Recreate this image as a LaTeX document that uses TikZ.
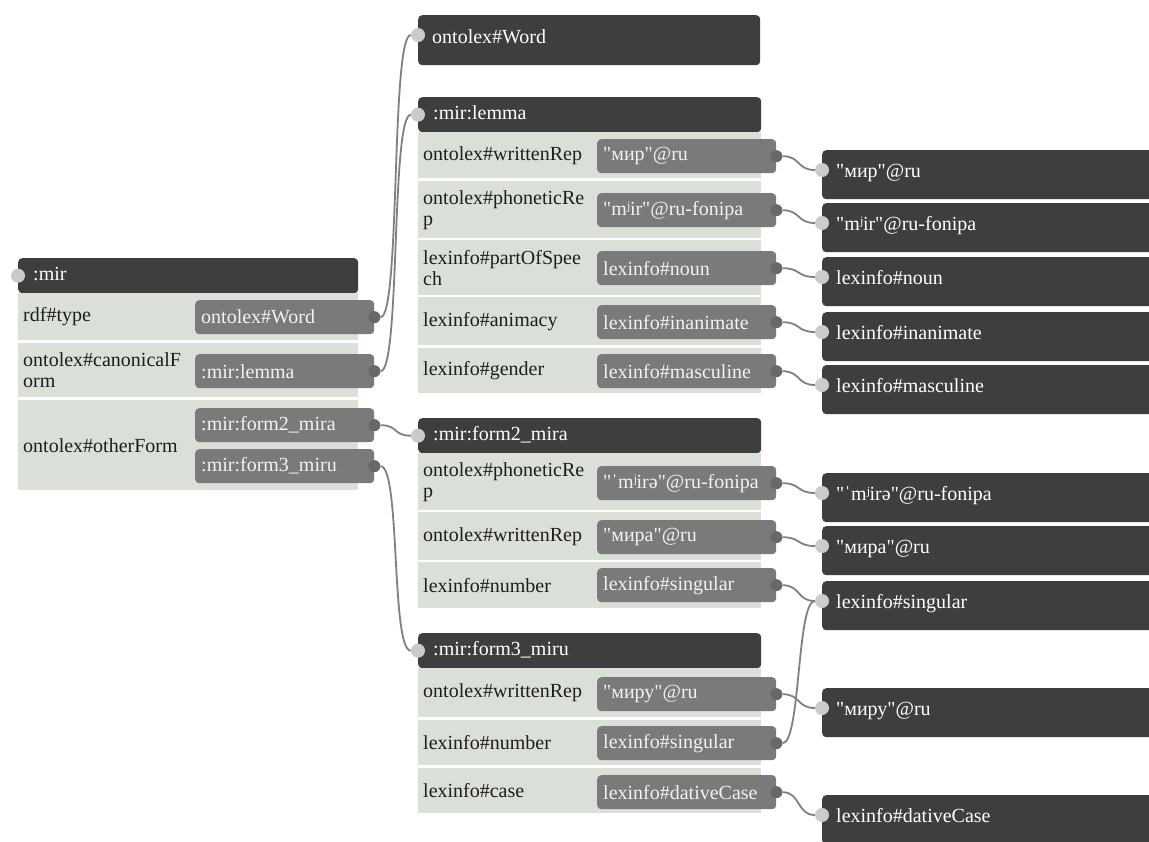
\documentclass[tikz,border=0pt]{standalone}
\usepackage{fontspec}
\setmainfont{Liberation Serif}
\usepackage{tikz}
\usetikzlibrary{positioning}
\definecolor{hdrclr}{RGB}{62, 62, 62}
\definecolor{rowclr}{RGB}{218, 224, 216}
\definecolor{valclr}{RGB}{122, 122, 122}
\definecolor{tabclr}{RGB}{104, 104, 104}
\definecolor{portclr}{RGB}{200, 206, 199}
\definecolor{connclr}{RGB}{128, 128, 128}
\definecolor{lblclr}{RGB}{30, 30, 30}
\newcommand{\lit}[1]{\textquotedbl#1\textquotedbl}

\begin{document}
\begin{tikzpicture}[
  x=1pt, y=-1pt,
  every node/.style={font=\fontsize{20}{21}\selectfont},
  hdr/.style={fill=hdrclr, text=white, rounded corners=4pt, anchor=north west,
    text width=#1, align=left, inner xsep=15pt, inner ysep=0pt,
    minimum height=35pt, text height=14pt, text depth=5pt},
  tgt/.style={hdr=#1, minimum height=49pt, text depth=8pt, inner xsep=14pt},
  row/.style={fill=rowclr, text=lblclr, anchor=north west, text width=#1,
    align=left, inner xsep=5pt, inner ysep=0pt},
  val/.style={fill=valclr, text=white!95!black, rounded corners=4pt,
    anchor=north west, text width=167pt, align=left, inner xsep=6pt,
    inner ysep=0pt, minimum height=34pt},
  tab/.style={circle, fill=tabclr, minimum size=12pt, inner sep=0pt},
  port/.style={circle, fill=portclr, minimum size=14pt, inner sep=0pt},
  conn/.style={draw=connclr, line width=1.8pt}
]
  \fill[white] (0,0) rectangle (1149,841);
  \useasboundingbox (0,0) rectangle (1149,841);

  % :mir
  \node[hdr=310pt] (mir) at (18,258) {:mir};
  \node[row=330pt, minimum height=47pt] (mir-r1) at (18,293) {rdf\#type};
  \node[row=330pt, minimum height=54pt] (mir-r2) at (18,343) {ontolex\#canonicalF\\orm};
  \node[row=330pt, minimum height=90pt] (mir-r3) at (18,400) {ontolex\#otherForm};
  \node[val] (mir-v1) at (195,300) {ontolex\#Word};
  \node[val] (mir-v2) at (195,354) {:mir:lemma};
  \node[val] (mir-v3) at (195,408) {:mir:form2\_mira};
  \node[val] (mir-v4) at (195,449) {:mir:form3\_miru};
  \node[port] (mir-in) at (mir.west) {};

  % ontolex#Word
  \node[tgt=314pt, minimum height=50pt] (word) at (418,15) {ontolex\#Word};
  \node[port, yshift=-20pt] (word-in) at (word.north west) {};

  % :mir:lemma
  \node[hdr=313pt] (lemma) at (418,97) {:mir:lemma};
  \node[row=333pt, minimum height=46pt] (lemma-r1) at (418,132) {ontolex\#writtenRep};
  \node[row=333pt, minimum height=57pt] (lemma-r2) at (418,181) {ontolex\#phoneticRe\\p};
  \node[row=333pt, minimum height=55pt] (lemma-r3) at (418,240) {lexinfo\#partOfSpee\\ch};
  \node[row=333pt, minimum height=48pt] (lemma-r4) at (418,297) {lexinfo\#animacy};
  \node[row=333pt, minimum height=45pt] (lemma-r5) at (418,348) {lexinfo\#gender};
  \node[val] (lemma-v1) at (597,139) {\lit{мир}@ru};
  \node[val] (lemma-v2) at (597,193) {\lit{mʲir}@ru-fonipa};
  \node[val] (lemma-v3) at (597,251) {lexinfo\#noun};
  \node[val] (lemma-v4) at (597,305) {lexinfo\#inanimate};
  \node[val] (lemma-v5) at (597,354) {lexinfo\#masculine};
  \node[port] (lemma-in) at (lemma.west) {};

  % :mir:form2_mira
  \node[hdr=313pt] (form2) at (418,418) {:mir:form2\_mira};
  \node[row=333pt, minimum height=57pt] (form2-r1) at (418,453) {ontolex\#phoneticRe\\p};
  \node[row=333pt, minimum height=48pt] (form2-r2) at (418,512) {ontolex\#writtenRep};
  \node[row=333pt, minimum height=46pt] (form2-r3) at (418,562) {lexinfo\#number};
  \node[val] (form2-v1) at (597,466) {\lit{ˈmʲirə}@ru-fonipa};
  \node[val] (form2-v2) at (597,520) {\lit{мира}@ru};
  \node[val] (form2-v3) at (597,568) {lexinfo\#singular};
  \node[port] (form2-in) at (form2.west) {};

  % :mir:form3_miru
  \node[hdr=313pt] (form3) at (418,633) {:mir:form3\_miru};
  \node[row=333pt, minimum height=49pt] (form3-r1) at (418,668) {ontolex\#writtenRep};
  \node[row=333pt, minimum height=45pt] (form3-r2) at (418,720) {lexinfo\#number};
  \node[row=333pt, minimum height=45pt] (form3-r3) at (418,768) {lexinfo\#case};
  \node[val] (form3-v1) at (597,677) {\lit{миру}@ru};
  \node[val] (form3-v2) at (597,726) {lexinfo\#singular};
  \node[val] (form3-v3) at (597,775) {lexinfo\#dativeCase};
  \node[port] (form3-in) at (form3.west) {};

  % literals and resources on the right
  \node[tgt=312pt] (wr-mir)    at (822,150) {\lit{мир}@ru};
  \node[tgt=312pt] (ph-mir)    at (822,203) {\lit{mʲir}@ru-fonipa};
  \node[tgt=312pt] (noun)      at (822,257) {lexinfo\#noun};
  \node[tgt=312pt] (inanimate) at (822,312) {lexinfo\#inanimate};
  \node[tgt=312pt] (masculine) at (822,365) {lexinfo\#masculine};
  \node[tgt=312pt] (ph-mira)   at (822,473) {\lit{ˈmʲirə}@ru-fonipa};
  \node[tgt=312pt] (wr-mira)   at (822,526) {\lit{мира}@ru};
  \node[tgt=312pt] (singular)  at (822,581) {lexinfo\#singular};
  \node[tgt=312pt] (wr-miru)   at (822,688) {\lit{миру}@ru};
  \node[tgt=312pt] (dative)    at (822,795) {lexinfo\#dativeCase};
  \foreach \n in {wr-mir, ph-mir, noun, inanimate, masculine,
                  ph-mira, wr-mira, singular, wr-miru, dative}
    \node[port, yshift=-20pt] (\n-in) at (\n.north west) {};

  % tabs on the values
  \foreach \v in {mir-v1, mir-v2, mir-v3, mir-v4,
                  lemma-v1, lemma-v2, lemma-v3, lemma-v4, lemma-v5,
                  form2-v1, form2-v2, form2-v3,
                  form3-v1, form3-v2, form3-v3}
    \node[tab] (\v-t) at (\v.east) {};

  % links
  \draw[conn] (mir-v1-t.east) .. controls +(20,0) and +(-20,0) .. (word-in.west);
  \draw[conn] (mir-v2-t.east) .. controls +(20,0) and +(-20,0) .. (lemma-in.west);
  \draw[conn] (mir-v3-t.east) .. controls +(18,0) and +(-18,0) .. (form2-in.west);
  \draw[conn] (mir-v4-t.east) .. controls +(20,0) and +(-20,0) .. (form3-in.west);

  \draw[conn] (lemma-v1-t.east) .. controls +(18,0) and +(-18,0) .. (wr-mir-in.west);
  \draw[conn] (lemma-v2-t.east) .. controls +(18,0) and +(-18,0) .. (ph-mir-in.west);
  \draw[conn] (lemma-v3-t.east) .. controls +(18,0) and +(-18,0) .. (noun-in.west);
  \draw[conn] (lemma-v4-t.east) .. controls +(18,0) and +(-18,0) .. (inanimate-in.west);
  \draw[conn] (lemma-v5-t.east) .. controls +(18,0) and +(-18,0) .. (masculine-in.west);

  \draw[conn] (form2-v1-t.east) .. controls +(18,0) and +(-18,0) .. (ph-mira-in.west);
  \draw[conn] (form2-v2-t.east) .. controls +(18,0) and +(-18,0) .. (wr-mira-in.west);
  \draw[conn] (form2-v3-t.east) .. controls +(18,0) and +(-18,0) .. (singular-in.west);

  \draw[conn] (form3-v1-t.east) .. controls +(18,0) and +(-18,0) .. (wr-miru-in.west);
  \draw[conn] (form3-v2-t.east) .. controls +(18,0) and +(-18,0) .. (singular-in.west);
  \draw[conn] (form3-v3-t.east) .. controls +(18,0) and +(-18,0) .. (dative-in.west);
\end{tikzpicture}
\end{document}
